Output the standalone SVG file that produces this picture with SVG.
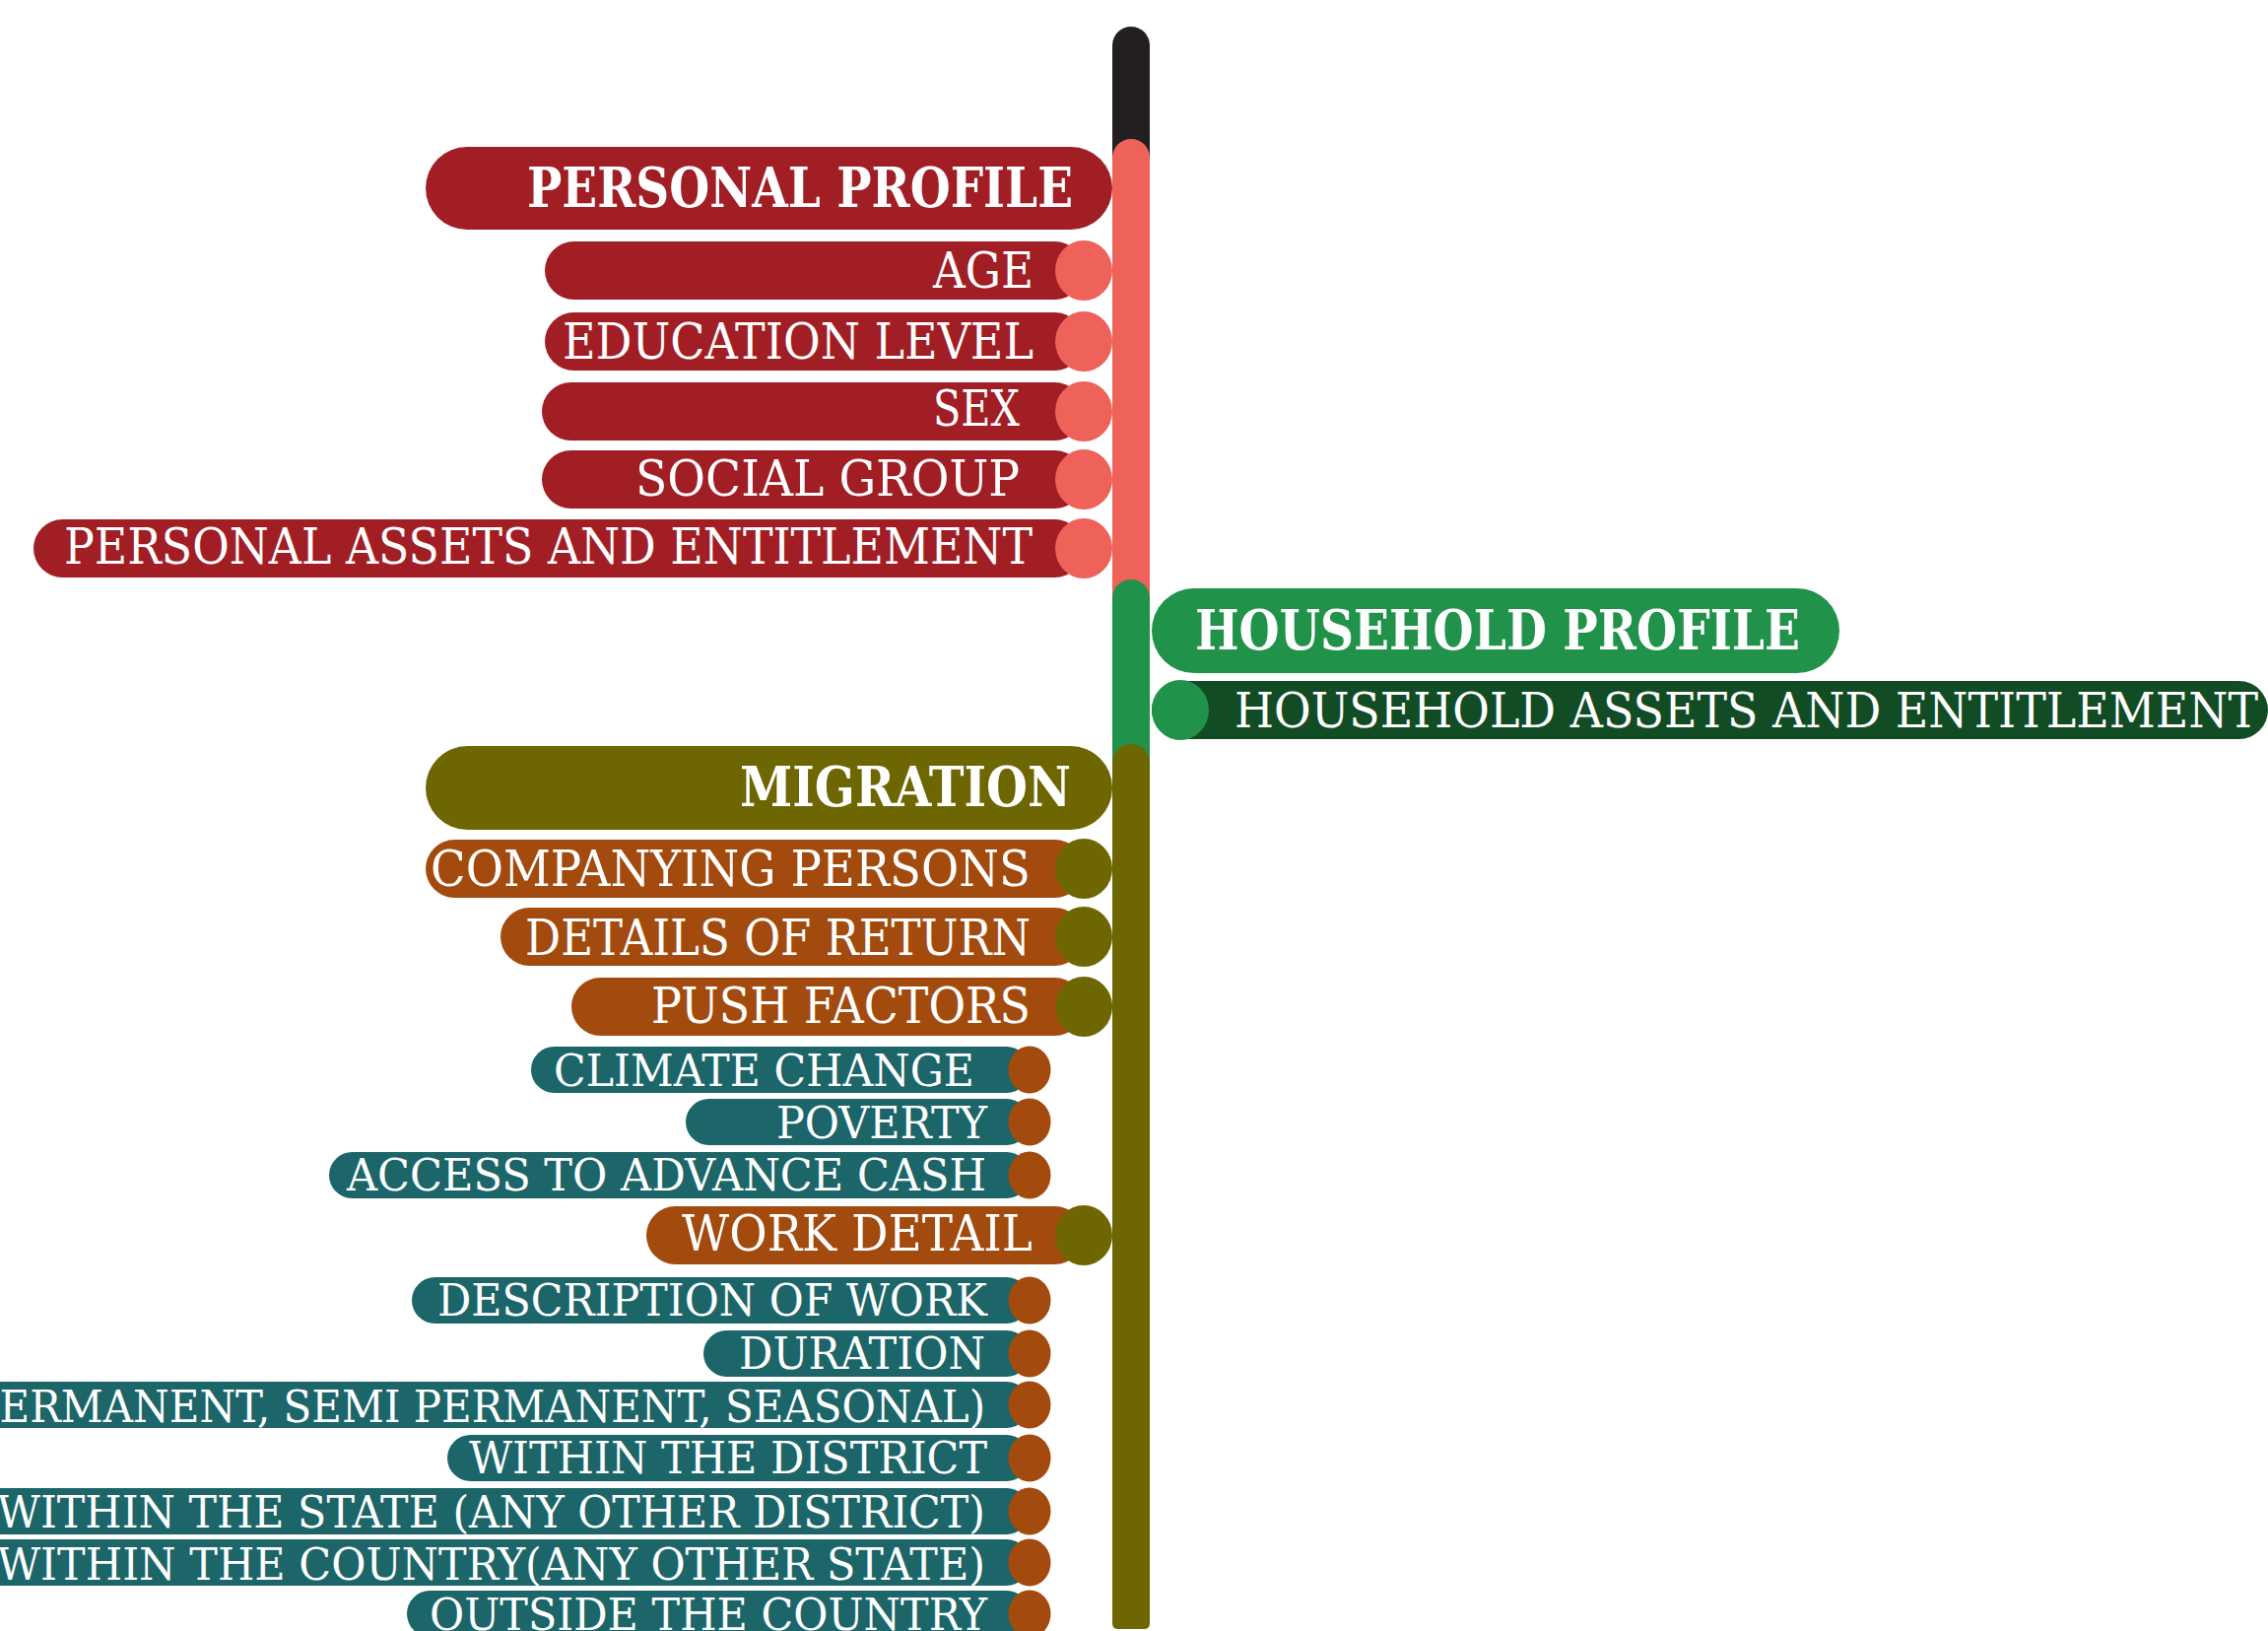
<svg xmlns="http://www.w3.org/2000/svg" width="2302" height="1655" viewBox="0 0 2302 1655">
<style>
.t{font-family:"DejaVu Serif","Liberation Serif",serif;fill:#ffffff}
.h{font-size:56px;font-weight:bold}
.m{font-size:50px}
.s{font-size:45px}
.red{fill:#A11E24}
.sal{fill:#EE625A}
.grn{fill:#20924A}
.dgr{fill:#124C25}
.olv{fill:#6E6600}
.brn{fill:#A34B0E}
.tea{fill:#1C6568}
</style>
<rect width="2302" height="1655" fill="#ffffff"/>
<g id="connectors">
<rect x="1129" y="27" width="38" height="180" rx="19" fill="#231F20"/>
<rect x="1129" y="141" width="38" height="500" rx="19" class="sal"/>
<rect x="1129" y="588" width="38" height="220" rx="19" class="grn"/>
<path d="M1129,774 a19,19 0 0 1 38,0 V1647 q0,6 -6,6 H1135 q-6,0 -6,-6 Z" class="olv"/>
</g>
<g id="personal-profile">
<rect x="432" y="149" width="697" height="84" rx="42" class="red"/>
<text class="t h" x="535" y="210" textLength="554" lengthAdjust="spacingAndGlyphs">PERSONAL PROFILE</text>
</g>
<g id="age">
<rect x="553" y="245" width="547" height="59" rx="29.5" class="red"/>
<ellipse cx="1100" cy="274.5" rx="29" ry="30.5" class="sal"/>
<text class="t m" x="947" y="292" textLength="102" lengthAdjust="spacingAndGlyphs">AGE</text>
</g>
<g id="education-level">
<rect x="553" y="317" width="547" height="59" rx="29.5" class="red"/>
<ellipse cx="1100" cy="346.5" rx="29" ry="30.5" class="sal"/>
<text class="t m" x="571" y="364" textLength="478" lengthAdjust="spacingAndGlyphs">EDUCATION LEVEL</text>
</g>
<g id="sex">
<rect x="550" y="388" width="550" height="59" rx="29.5" class="red"/>
<ellipse cx="1100" cy="417.5" rx="29" ry="30.5" class="sal"/>
<text class="t m" x="947" y="432" textLength="88" lengthAdjust="spacingAndGlyphs">SEX</text>
</g>
<g id="social-group">
<rect x="550" y="457" width="550" height="59" rx="29.5" class="red"/>
<ellipse cx="1100" cy="486.5" rx="29" ry="30.5" class="sal"/>
<text class="t m" x="645" y="503" textLength="390" lengthAdjust="spacingAndGlyphs">SOCIAL GROUP</text>
</g>
<g id="personal-assets">
<rect x="34" y="527" width="1066" height="59" rx="29.5" class="red"/>
<ellipse cx="1100" cy="556.5" rx="29" ry="30.5" class="sal"/>
<text class="t m" x="65" y="572" textLength="983" lengthAdjust="spacingAndGlyphs">PERSONAL ASSETS AND ENTITLEMENT</text>
</g>
<g id="household-profile">
<rect x="1169" y="597" width="698" height="86" rx="43" class="grn"/>
<text class="t h" x="1213" y="659" textLength="614" lengthAdjust="spacingAndGlyphs">HOUSEHOLD PROFILE</text>
</g>
<g id="household-assets">
<rect x="1169" y="691" width="1133" height="59" rx="29.5" class="dgr"/>
<ellipse cx="1198" cy="720.5" rx="29" ry="30.5" class="grn"/>
<text class="t" style="font-size:48px" x="1253" y="738" textLength="1039" lengthAdjust="spacingAndGlyphs">HOUSEHOLD ASSETS AND ENTITLEMENT</text>
</g>
<g id="migration">
<rect x="432" y="757" width="697" height="85" rx="42.5" class="olv"/>
<text class="t h" x="751" y="818" textLength="336" lengthAdjust="spacingAndGlyphs">MIGRATION</text>
</g>
<g id="companying-persons">
<rect x="432" y="852" width="668" height="59" rx="29.5" class="brn"/>
<ellipse cx="1100" cy="881.5" rx="29" ry="30.5" class="olv"/>
<text class="t m" x="437" y="899" textLength="609" lengthAdjust="spacingAndGlyphs">COMPANYING PERSONS</text>
</g>
<g id="details-of-return">
<rect x="508" y="921" width="592" height="59" rx="29.5" class="brn"/>
<ellipse cx="1100" cy="950.5" rx="29" ry="30.5" class="olv"/>
<text class="t m" x="533" y="969" textLength="513" lengthAdjust="spacingAndGlyphs">DETAILS OF RETURN</text>
</g>
<g id="push-factors">
<rect x="580" y="992" width="520" height="59" rx="29.5" class="brn"/>
<ellipse cx="1100" cy="1021.5" rx="29" ry="30.5" class="olv"/>
<text class="t m" x="661" y="1038" textLength="385" lengthAdjust="spacingAndGlyphs">PUSH FACTORS</text>
</g>
<g id="climate-change">
<rect x="539" y="1062" width="506" height="47" rx="23.5" class="tea"/>
<ellipse cx="1045" cy="1085.5" rx="21.5" ry="24" class="brn"/>
<text class="t s" x="562" y="1102" textLength="427" lengthAdjust="spacingAndGlyphs">CLIMATE CHANGE</text>
</g>
<g id="poverty">
<rect x="696" y="1115" width="349" height="47" rx="23.5" class="tea"/>
<ellipse cx="1045" cy="1138.5" rx="21.5" ry="24" class="brn"/>
<text class="t s" x="788" y="1155" textLength="214" lengthAdjust="spacingAndGlyphs">POVERTY</text>
</g>
<g id="access-to-advance-cash">
<rect x="334" y="1169" width="711" height="47" rx="23.5" class="tea"/>
<ellipse cx="1045" cy="1192.5" rx="21.5" ry="24" class="brn"/>
<text class="t s" x="352" y="1208" textLength="649" lengthAdjust="spacingAndGlyphs">ACCESS TO ADVANCE CASH</text>
</g>
<g id="work-detail">
<rect x="656" y="1224" width="444" height="59" rx="29.5" class="brn"/>
<ellipse cx="1100" cy="1253.5" rx="29" ry="30.5" class="olv"/>
<text class="t m" x="692" y="1269" textLength="356" lengthAdjust="spacingAndGlyphs">WORK DETAIL</text>
</g>
<g id="description-of-work">
<rect x="418" y="1296" width="627" height="47" rx="23.5" class="tea"/>
<ellipse cx="1045" cy="1319.5" rx="21.5" ry="24" class="brn"/>
<text class="t s" x="444" y="1335" textLength="558" lengthAdjust="spacingAndGlyphs">DESCRIPTION OF WORK</text>
</g>
<g id="duration">
<rect x="714" y="1350" width="331" height="47" rx="23.5" class="tea"/>
<ellipse cx="1045" cy="1373.5" rx="21.5" ry="24" class="brn"/>
<text class="t s" x="750" y="1389" textLength="250" lengthAdjust="spacingAndGlyphs">DURATION</text>
</g>
<g id="permanent-seasonal">
<rect x="-60" y="1402" width="1105" height="47" rx="23.5" class="tea"/>
<ellipse cx="1045" cy="1425.5" rx="21.5" ry="24" class="brn"/>
<text class="t s" x="-45" y="1443" textLength="1045" lengthAdjust="spacingAndGlyphs">(PERMANENT, SEMI PERMANENT, SEASONAL)</text>
</g>
<g id="within-the-district">
<rect x="454" y="1456" width="591" height="47" rx="23.5" class="tea"/>
<ellipse cx="1045" cy="1479.5" rx="21.5" ry="24" class="brn"/>
<text class="t s" x="476" y="1495" textLength="526" lengthAdjust="spacingAndGlyphs">WITHIN THE DISTRICT</text>
</g>
<g id="within-the-state">
<rect x="-60" y="1510" width="1105" height="47" rx="23.5" class="tea"/>
<ellipse cx="1045" cy="1533.5" rx="21.5" ry="24" class="brn"/>
<text class="t s" x="-3" y="1550" textLength="1003" lengthAdjust="spacingAndGlyphs">WITHIN THE STATE (ANY OTHER DISTRICT)</text>
</g>
<g id="within-the-country">
<rect x="-60" y="1562" width="1105" height="47" rx="23.5" class="tea"/>
<ellipse cx="1045" cy="1585.5" rx="21.5" ry="24" class="brn"/>
<text class="t s" x="-3" y="1603" textLength="1003" lengthAdjust="spacingAndGlyphs">WITHIN THE COUNTRY(ANY OTHER STATE)</text>
</g>
<g id="outside-the-country">
<rect x="413" y="1614" width="632" height="47" rx="23.5" class="tea"/>
<ellipse cx="1045" cy="1637.5" rx="21.5" ry="24" class="brn"/>
<text class="t s" x="436" y="1654" textLength="566" lengthAdjust="spacingAndGlyphs">OUTSIDE THE COUNTRY</text>
</g>
</svg>
